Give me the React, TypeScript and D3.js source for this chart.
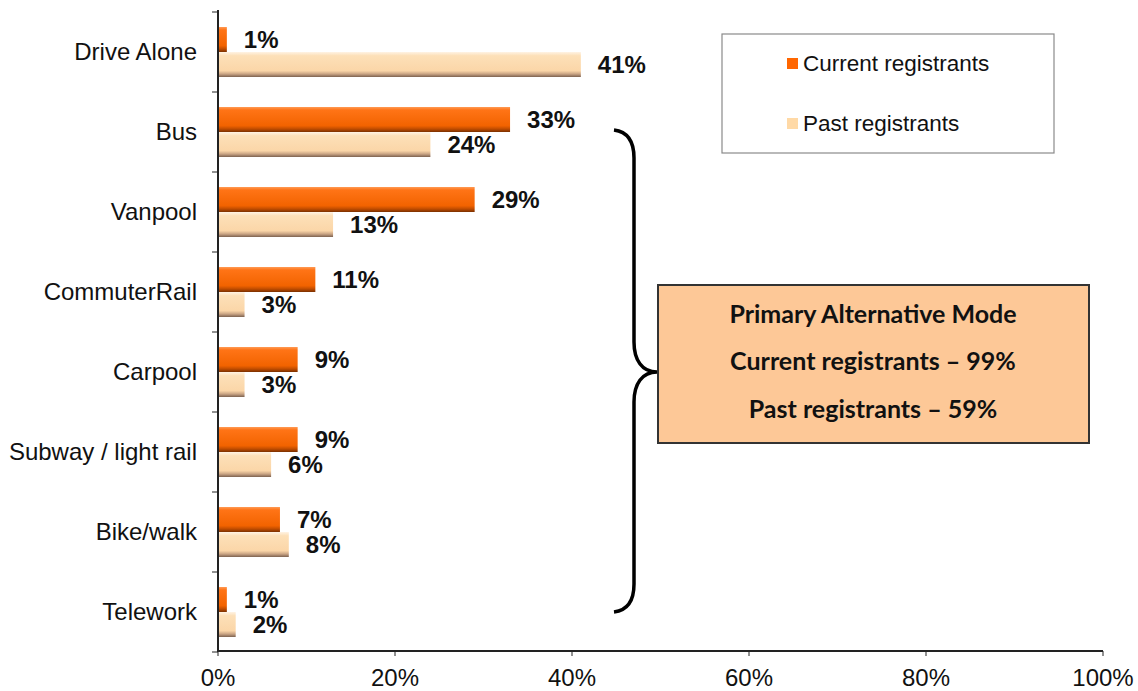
import * as d3 from "d3";

const W = 1138;
const H = 691;

const categories = [
  "Drive Alone",
  "Bus",
  "Vanpool",
  "CommuterRail",
  "Carpool",
  "Subway / light rail",
  "Bike/walk",
  "Telework",
];
const seriesNames = ["Current registrants", "Past registrants"];
const currentValues = [1, 33, 29, 11, 9, 9, 7, 1];
const pastValues = [41, 24, 13, 3, 3, 6, 8, 2];
const xTicks = [0, 20, 40, 60, 80, 100];
const boxLines = [
  "Primary Alternative Mode",
  "Current registrants \u2013 99%",
  "Past registrants \u2013 59%",
];

const SANS = "'Liberation Sans', Arial, sans-serif";
const BOX_FONT = "Lato, 'Open Sans', sans-serif";

export default function App() {
  const x = d3.scaleLinear().domain([0, 100]).range([218, 1103]);
  const y = d3.scaleBand<string>().domain(categories).range([12, 652]);
  const inner = d3.scaleBand<string>().domain(seriesNames).range([-25, 25]);
  const barH = inner.bandwidth();

  const rows = categories.map((c, i) => ({
    cat: c,
    vals: [currentValues[i], pastValues[i]],
  }));

  // brace path: top tip -> middle point -> bottom tip
  const bx = 614;
  const bTop = 130;
  const bBot = 612;
  const bMid = 372;
  const bx2 = 634;
  const bPt = 657;
  const brace = [
    `M${bx},${bTop}`,
    `C${bx2 - 4},${bTop + 2} ${bx2},${bTop + 14} ${bx2},${bTop + 28}`,
    `L${bx2},${bMid - 30}`,
    `C${bx2},${bMid - 12} ${bx2 + 8},${bMid} ${bPt},${bMid}`,
    `C${bx2 + 8},${bMid} ${bx2},${bMid + 12} ${bx2},${bMid + 30}`,
    `L${bx2},${bBot - 28}`,
    `C${bx2},${bBot - 14} ${bx2 - 4},${bBot - 2} ${bx},${bBot}`,
  ].join(" ");

  return (
    <svg
      width={W}
      height={H}
      style={{ position: "absolute", left: 0, top: 0, background: "#fff" }}
    >
      <defs>
        <linearGradient id="gCur" x1="0" y1="0" x2="0" y2="1">
          <stop offset="0" stopColor="#ff9a55" />
          <stop offset="0.12" stopColor="#ff7416" />
          <stop offset="0.75" stopColor="#f26300" />
          <stop offset="0.88" stopColor="#c04c00" />
          <stop offset="1" stopColor="#7a3000" />
        </linearGradient>
        <linearGradient id="gPast" x1="0" y1="0" x2="0" y2="1">
          <stop offset="0" stopColor="#fff3e4" />
          <stop offset="0.15" stopColor="#fde0b8" />
          <stop offset="0.75" stopColor="#fbd6a8" />
          <stop offset="0.88" stopColor="#c9a484" />
          <stop offset="1" stopColor="#7d6250" />
        </linearGradient>
      </defs>

      {/* bars */}
      {rows.map((r) => {
        const cy = (y(r.cat) as number) + y.bandwidth() / 2;
        return (
          <g key={r.cat}>
            {r.vals.map((v, j) => {
              const by = cy + (inner(seriesNames[j]) as number);
              return (
                <g key={j}>
                  <rect
                    x={x(0)}
                    y={by}
                    width={x(v) - x(0)}
                    height={barH}
                    fill={j === 0 ? "url(#gCur)" : "url(#gPast)"}
                  />
                  <text
                    x={x(v) + 17}
                    y={by + barH / 2}
                    dy="0.35em"
                    fontFamily={SANS}
                    fontWeight="bold"
                    fontSize={24}
                    fill="#111"
                  >
                    {v}%
                  </text>
                </g>
              );
            })}
            <text
              x={197}
              y={cy}
              dy="0.35em"
              textAnchor="end"
              fontFamily={SANS}
              fontSize={24}
              fill="#111"
            >
              {r.cat}
            </text>
          </g>
        );
      })}

      {/* y axis */}
      <line x1={218} x2={218} y1={10} y2={652} stroke="#222" strokeWidth={2} />
      {d3.range(categories.length + 1).map((i) => {
        const ty = 12 + i * y.step();
        return (
          <line key={i} x1={212} x2={218} y1={ty} y2={ty} stroke="#222" strokeWidth={1} />
        );
      })}

      {/* x axis */}
      <line x1={217} x2={x(100)} y1={651} y2={651} stroke="#222" strokeWidth={2} />
      {xTicks.map((t) => (
        <g key={t}>
          <line x1={x(t)} x2={x(t)} y1={651} y2={656} stroke="#222" strokeWidth={1} />
          <text
            x={x(t)}
            y={678}
            dy="0.35em"
            textAnchor="middle"
            fontFamily={SANS}
            fontSize={24}
            fill="#111"
          >
            {t}%
          </text>
        </g>
      ))}

      {/* legend */}
      <rect x={722} y={34} width={332} height={119} fill="#fff" stroke="#8a8a8a" strokeWidth={1.2} />
      {seriesNames.map((s, i) => {
        const ly = 63 + i * 60;
        return (
          <g key={s}>
            <rect
              x={787}
              y={ly - 5}
              width={11}
              height={11}
              fill={i === 0 ? "#ff6600" : "#ffd9a6"}
            />
            <text
              x={803}
              y={ly}
              dy="0.35em"
              fontFamily={SANS}
              fontSize={22.5}
              fill="#111"
            >
              {s}
            </text>
          </g>
        );
      })}

      {/* brace */}
      <path d={brace} fill="none" stroke="#000" strokeWidth={3.5} />

      {/* summary box */}
      <rect x={658} y={285} width={431} height={158} fill="#fdc897" stroke="#333" strokeWidth={2} />
      {boxLines.map((t, i) => (
        <text
          key={i}
          x={873}
          y={314 + i * 47.5}
          dy="0.35em"
          textAnchor="middle"
          fontFamily={BOX_FONT}
          fontWeight="bold"
          fontSize={25}
          fill="#111"
        >
          {t}
        </text>
      ))}
    </svg>
  );
}
